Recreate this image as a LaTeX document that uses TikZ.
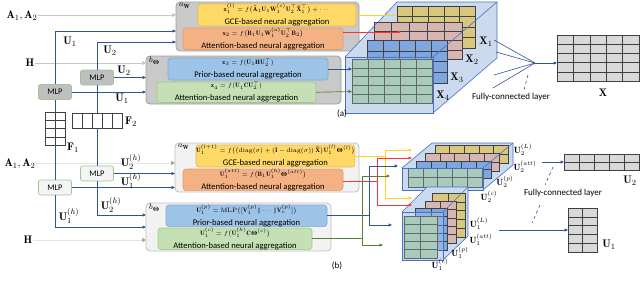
\documentclass[tikz,border=0pt]{standalone}
\usepackage{amsmath,amssymb,bm}
\usepackage{fontspec}
\setsansfont{Carlito}
\usetikzlibrary{arrows.meta,calc}
\definecolor{navy}{HTML}{2F5597}
\definecolor{yF}{HTML}{FFD966}\definecolor{yD}{HTML}{E6B84A}
\definecolor{oF}{HTML}{F4B183}\definecolor{oD}{HTML}{E49B6A}
\definecolor{bF}{HTML}{9DC3E6}\definecolor{bD}{HTML}{7FA7D6}
\definecolor{gF}{HTML}{C5E0B4}\definecolor{gD}{HTML}{9CC98A}
\definecolor{outAF}{HTML}{C9C9C9}\definecolor{outAD}{HTML}{9E9E9E}
\definecolor{outBF}{HTML}{F2F2F2}\definecolor{outBD}{HTML}{BFBFBF}
\definecolor{cubeF}{HTML}{CCDAF0}\definecolor{cubeD}{HTML}{4472C4}
\definecolor{lY}{HTML}{D8C77E}\definecolor{lP}{HTML}{D7B5B1}
\definecolor{lB}{HTML}{7FA6DF}\definecolor{lG}{HTML}{9EC6AB}
\definecolor{mgray}{HTML}{D9D9D9}\definecolor{gridD}{HTML}{404040}
\definecolor{yl}{HTML}{FFD21F}\definecolor{rd}{HTML}{FF3333}\definecolor{gn}{HTML}{548235}
\definecolor{mlpA}{HTML}{BFBFBF}\definecolor{mlpB}{HTML}{F4F4F4}
\definecolor{tipg}{HTML}{A0A0A0}
\newcommand{\eqline}[1]{{\fontsize{6.3}{6.5}\selectfont$#1$}}
\newcommand{\txtline}[1]{{\fontsize{8.6}{9}\selectfont\sffamily #1}}
\newcommand{\mygrid}[7]{%
  \filldraw[fill=#7, draw=gridD, line width=0.5pt] (#1,#2) rectangle ++(#3,#4);
  \foreach \k in {1,...,#5}{\draw[gridD, line width=0.5pt] ({#1+#3*\k/#5},#2) -- ++(0,#4);}
  \foreach \k in {1,...,#6}{\draw[gridD, line width=0.5pt] (#1,{#2+#4*\k/#6}) -- ++(#3,0);}
}
\tikzset{
  box/.style={inner sep=0pt, outer sep=0pt, anchor=north west, align=center, font=\sffamily, rounded corners=3pt, line width=0.6pt},
  outA/.style={box, draw=outAD, fill=outAF, rounded corners=4pt, line width=0.8pt},
  outB/.style={box, draw=outBD, fill=outBF, rounded corners=4pt, line width=0.8pt},
  ybx/.style={box, draw=yD, fill=yF},
  obx/.style={box, draw=oD, fill=oF},
  bbx/.style={box, draw=bD, fill=bF},
  gbx/.style={box, draw=gD, fill=gF},
  mlpbox/.style={draw=gD, rounded corners=2pt, font=\sffamily\fontsize{8.5}{9}\selectfont, minimum width=33, minimum height=15, inner sep=0pt, line width=0.6pt},
  conn/.style={draw=navy, line width=0.6pt, -{Triangle[length=3.5pt,width=3pt]}},
  plain/.style={draw=navy, line width=0.6pt},
  inarr/.style={draw=gray!45, line width=0.6pt, -{Triangle[length=4pt,width=4pt]}},
  inarrb/.style={draw=gray!20, line width=0.5pt, -{Triangle[length=4pt,width=4pt,color=tipg]}},
  lbl/.style={font=\fontsize{11}{12}\selectfont, inner sep=0pt},
  slbl/.style={font=\fontsize{9}{10}\selectfont, inner sep=0pt},
  fclabel/.style={font=\sffamily\fontsize{9}{10}\selectfont, inner sep=0pt},
  mat/.style={inner sep=0pt, outer sep=0pt, anchor=north west},
  colarr/.style={line width=0.7pt, -{Triangle[length=3.5pt,width=3pt]}},
}
\begin{document}
\begin{tikzpicture}[x=1pt,y=-1pt]
\useasboundingbox (0,0) rectangle (640,282);

% ---------------- (a) ----------------
\node[outA, minimum width=183, minimum height=49] (awA) at (176,2) {};
\node[inner sep=0pt, anchor=north west, font=\fontsize{8}{9}\selectfont] (awAl) at (179,3) {$a_{\mathbf W}$};
\node[ybx, minimum width=158, minimum height=22] (yA) at (198,4) {\eqline{\mathbf{x}_1^{(l)} = f\big(\tilde{\mathbf{A}}_1\mathbf{U}_1\mathbf{W}_1^{(c)}\mathbf{U}_2^{\top}\tilde{\mathbf{X}}_1^{\top}\big) + \cdots}\\[1pt]\txtline{GCE-based neural aggregation}};
\node[obx, minimum width=160, minimum height=20] (oA) at (183,28) {\eqline{\mathbf{x}_2 = f\big(\mathbf{B}_1\mathbf{U}_1\mathbf{W}_1^{(a)}\mathbf{U}_2^{\top}\mathbf{B}_2\big)}\\[1pt]\txtline{Attention-based neural aggregation}};

\node[outA, minimum width=195, minimum height=48] (bA) at (146,56) {};
\node[inner sep=0pt, anchor=north west, font=\fontsize{8}{9}\selectfont] (bAl) at (149,57) {$b_{\bm\Theta}$};
\node[bbx, minimum width=160, minimum height=22] (blA) at (168,58) {\eqline{\mathbf{x}_3 = f(\mathbf{U}_1\mathbf{H}\mathbf{U}_2^{\top})}\\[1pt]\txtline{Prior-based neural aggregation}};
\node[gbx, minimum width=159, minimum height=19] (gA) at (157,82) {\eqline{\mathbf{x}_4 = f(\mathbf{U}_1\mathbf{C}\mathbf{U}_2^{\top})}\\[1pt]\txtline{Attention-based neural aggregation}};

\node[lbl] (AA) at (22,16) {$\mathbf{A}_1,\mathbf{A}_2$};
\node[lbl] (HA) at (30,63) {$\mathbf{H}$};
\draw[inarr] (AA.east |- 0,15) -- (awA.west |- 0,15);
\draw[inarr] (HA.east) -- (bA.west |- HA.east);

% matrices F1 F2
\node[mat, minimum width=20, minimum height=33] (F1) at (45,112) {};
\mygrid{45}{112}{20}{33}{2}{4}{white}
\node[mat, minimum width=50, minimum height=15] (F2) at (72,113) {};
\mygrid{72}{113}{50}{15}{5}{1}{white}
\node[lbl] at (73,148) {$\mathbf{F}_1$};
\node[lbl] at (131,122) {$\mathbf{F}_2$};

\node[mlpbox, fill=mlpA] (mlpA2) at (97,77.5) {MLP};
\node[mlpbox, fill=mlpA] (mlpA1) at (55,92) {MLP};

\draw[plain] (F1.north) -- (mlpA1.south);
\draw[plain] (F2.north) -- (mlpA2.south);
\draw[conn] (mlpA1.north) |- (awA.west |- 0,31);
\draw[conn] (mlpA2.north) |- (awA.west |- 0,42);
\draw[conn] (mlpA2.east) -- (bA.west |- mlpA2.east);
\draw[conn] (mlpA1.east) -- (bA.west |- mlpA1.east);
\node[lbl] at (70,42) {$\mathbf{U}_1$};
\node[lbl] at (110,51) {$\mathbf{U}_2$};
\node[lbl] at (124,71) {$\mathbf{U}_2$};
\node[lbl] at (122,99) {$\mathbf{U}_1$};

% cube (a)
\fill[cubeF] (345,57) -- (397,2) -- (497,2) -- (497,58) -- (433,113) -- (345,113) -- cycle;
\mygrid{397}{6}{78}{42}{5}{4}{lY}
\mygrid{374}{22}{88}{37}{5}{4}{lP}
\mygrid{367}{40}{80}{43}{5}{4}{lB}
\mygrid{352}{59}{80}{44}{5}{5}{lG}
\fill[cubeF, opacity=0.25] (345,57) rectangle (433,113);
\draw[cubeD, line width=0.6pt] (345,57) rectangle (433,113);
\draw[cubeD, line width=0.6pt] (345,57) -- (397,2) -- (497,2) -- (497,58) -- (433,113);
\draw[cubeD, line width=0.6pt] (433,57) -- (497,2);
\node[lbl] (X1) at (486,42) {$\mathbf{X}_1$};
\node[lbl] (X2) at (472,60) {$\mathbf{X}_2$};
\node[lbl] (X3) at (457,78) {$\mathbf{X}_3$};
\node[lbl] (X4) at (443,96) {$\mathbf{X}_4$};

\draw[yl, line width=0.7pt] (yA.east) -- (396,15);
\draw[rd, colarr] (oA.east |- 0,32) -- (401,32);
\draw[navy, colarr] (blA.east) -- (352,69);
\draw[gn, colarr] (gA.east) -- (352,91.5);

% FC (a)
\node[mat, minimum width=82, minimum height=46] (X) at (557,35) {};
\mygrid{557}{35}{82}{46}{5}{5}{mgray}
\node[lbl] at (603,93) {$\mathbf{X}$};
\coordinate (fca) at (535,63);
\coordinate (fa1) at (494,40);
\coordinate (fa2) at (496,52);
\coordinate (fa3) at (494,75);
\coordinate (fa4) at (493,88);
\foreach \p in {fa1,fa2,fa3,fa4}{\draw[plain] (\p) -- (fca);}
\draw[conn] (fca) -- (X.west |- fca);
\coordinate (da1) at (528,75);
\coordinate (da2) at (524,90);
\draw[navy, dashed, line width=0.6pt] (da1) -- (da2);
\node[fclabel] at (511,97) {Fully-connected layer};
\node[font=\sffamily\fontsize{9}{10}\selectfont, inner sep=0pt] at (342,114) {(a)};

% ---------------- (b) ----------------
\node[outB, minimum width=184, minimum height=49] (awB) at (175,143) {};
\node[inner sep=0pt, anchor=north west, font=\fontsize{8}{9}\selectfont] (awBl) at (178,144) {$a_{\mathbf W}$};
\node[ybx, minimum width=151, minimum height=22] (yB) at (196,145) {\eqline{\mathbf{U}_1^{(l+1)} = f\big(\big(\mathrm{diag}(\sigma) + (\mathbf{I}-\mathrm{diag}(\sigma))\,\tilde{\mathbf{X}}\big)\mathbf{U}_1^{(l)}\bm{\Theta}^{(l)}\big)}\\[1pt]\txtline{GCE-based neural aggregation}};
\node[obx, minimum width=160, minimum height=20] (oB) at (183,169) {\eqline{\mathbf{U}_1^{(att)} = f\big(\mathbf{B}_1\mathbf{U}_1^{(h)}\bm{\Theta}^{(att)}\big)}\\[1pt]\txtline{Attention-based neural aggregation}};

\node[outB, minimum width=185, minimum height=48] (bB) at (146,203) {};
\node[inner sep=0pt, anchor=north west, font=\fontsize{8}{9}\selectfont] (bBl) at (149,204) {$b_{\bm\Theta}$};
\node[bbx, minimum width=161, minimum height=21] (blB) at (166,205) {\eqline{\mathbf{U}_1^{(p)} = \mathrm{MLP}\big([\mathbf{V}_1^{(p)}\|\cdots\|\mathbf{V}_c^{(p)}]\big)}\\[1pt]\txtline{Prior-based neural aggregation}};
\node[gbx, minimum width=154, minimum height=20] (gB) at (158,228) {\eqline{\mathbf{U}_1^{(c)} = f\big(\mathbf{U}_1^{(h)}\mathbf{C}\bm{\Theta}^{(c)}\big)}\\[1pt]\txtline{Attention-based neural aggregation}};

\node[lbl] (AB) at (20,164) {$\mathbf{A}_1,\mathbf{A}_2$};
\node[lbl] (HB) at (28,240) {$\mathbf{H}$};
\draw[inarrb] (AB.east |- 0,163) -- (awB.west |- 0,163);
\draw[inarrb] (HB.east) -- (bB.west |- HB.east);

\node[mlpbox, fill=mlpB] (mlpB2) at (97,173.5) {MLP};
\node[mlpbox, fill=mlpB] (mlpB1) at (55,187.5) {MLP};
\draw[plain] (F1.south) -- (mlpB1.north);
\draw[plain] (F2.south) -- (mlpB2.north);
\draw[conn] (mlpB2.east) -- (awB.west |- mlpB2.east);
\draw[conn] (mlpB1.east) -- (awB.west |- mlpB1.east);
\draw[conn] (mlpB2.south) |- (bB.west |- 0,215);
\draw[conn] (mlpB1.south) |- (bB.west |- 0,227);
\node[lbl] at (131,162) {$\mathbf{U}_2^{(h)}$};
\node[lbl] at (131,181) {$\mathbf{U}_1^{(h)}$};
\node[lbl] at (111,205) {$\mathbf{U}_2^{(h)}$};
\node[lbl] at (69,216) {$\mathbf{U}_1^{(h)}$};

% cube U2
\fill[cubeF] (402,168) -- (432,143) -- (513,143) -- (513,165) -- (483,190) -- (402,190) -- cycle;
\mygrid{435}{145}{73}{18}{5}{2}{lY}
\mygrid{425}{153}{74}{18}{5}{2}{lP}
\mygrid{416}{161}{75}{17}{5}{2}{lB}
\mygrid{408}{168}{74}{19}{5}{2}{lG}
\fill[cubeF, opacity=0.25] (402,168) rectangle (483,190);
\draw[cubeD, line width=0.6pt] (402,168) rectangle (483,190);
\draw[cubeD, line width=0.6pt] (402,168) -- (432,143) -- (513,143) -- (513,165) -- (483,190);
\draw[cubeD, line width=0.6pt] (483,168) -- (513,143);

% cube U1
\fill[cubeF] (402,212) -- (427,187) -- (468,187) -- (468,236) -- (443,260) -- (402,260) -- cycle;
\mygrid{432}{193}{33}{44}{2}{5}{lY}
\mygrid{425}{201}{31}{42}{2}{5}{lP}
\mygrid{415}{208}{32}{42}{2}{5}{lB}
\mygrid{404}{216}{33}{42}{2}{5}{lG}
\fill[cubeF, opacity=0.25] (402,212) rectangle (443,260);
\draw[cubeD, line width=0.6pt] (402,212) rectangle (443,260);
\draw[cubeD, line width=0.6pt] (402,212) -- (427,187) -- (468,187) -- (468,236) -- (443,260);
\draw[cubeD, line width=0.6pt] (443,212) -- (468,187);

\node[slbl] at (523,150) {$\mathbf{U}_2^{(L)}$};
\node[slbl] at (525,167) {$\mathbf{U}_2^{(att)}$};
\node[slbl] at (505,182) {$\mathbf{U}_2^{(p)}$};
\node[slbl] at (489,197) {$\mathbf{U}_2^{(c)}$};
\node[slbl] at (479,224) {$\mathbf{U}_1^{(L)}$};
\node[slbl] at (481,240) {$\mathbf{U}_1^{(att)}$};
\node[slbl] at (460,253) {$\mathbf{U}_1^{(p)}$};
\node[slbl] at (440,265) {$\mathbf{U}_1^{(c)}$};

% coloured connectors (b)
\draw[yl, colarr] (yB.east) -| (385,150) -- (412,150);
\draw[yl, colarr] (yB.east) -| (385,198) -- (412,198);
\draw[rd, colarr] (oB.east |- 0,181) -| (377,158) -- (412,158);
\draw[rd, colarr] (oB.east |- 0,181) -| (377,205) -- (412,205);
\draw[navy, colarr] (blB.east) -| (369,166) -- (398,166);
\draw[navy, colarr] (blB.east) -| (369,225) -- (392,225);
\draw[gn, colarr] (gB.east) -| (362,176) -- (390,176);
\draw[gn, colarr] (gB.east) -| (362,245) -- (383,245);

% FC (b)
\node[mat, minimum width=75, minimum height=16] (U2m) at (564,154) {};
\mygrid{564}{154}{75}{16}{5}{2}{mgray}
\node[mat, minimum width=29, minimum height=44] (U1m) at (568,208) {};
\mygrid{568}{208}{29}{44}{2}{5}{mgray}
\node[lbl] at (630,181) {$\mathbf{U}_2$};
\node[lbl] at (609,245) {$\mathbf{U}_1$};
\coordinate (fcb2) at (542,162);
\coordinate (fcb1) at (499,230);
\draw[conn] (fcb2) -- (U2m.west);
\draw[conn] (fcb1) -- (U1m.west);
\coordinate (db1) at (553,167);
\coordinate (db2) at (545,185);
\coordinate (db3) at (540,205);
\coordinate (db4) at (532,223);
\draw[navy, dashed, line width=0.6pt] (db1) -- (db2);
\draw[navy, dashed, line width=0.6pt] (db3) -- (db4);
\node[fclabel] at (563,193) {Fully-connected layer};
\node[font=\sffamily\fontsize{9}{10}\selectfont, inner sep=0pt] at (337,266) {(b)};
\end{tikzpicture}
\end{document}
